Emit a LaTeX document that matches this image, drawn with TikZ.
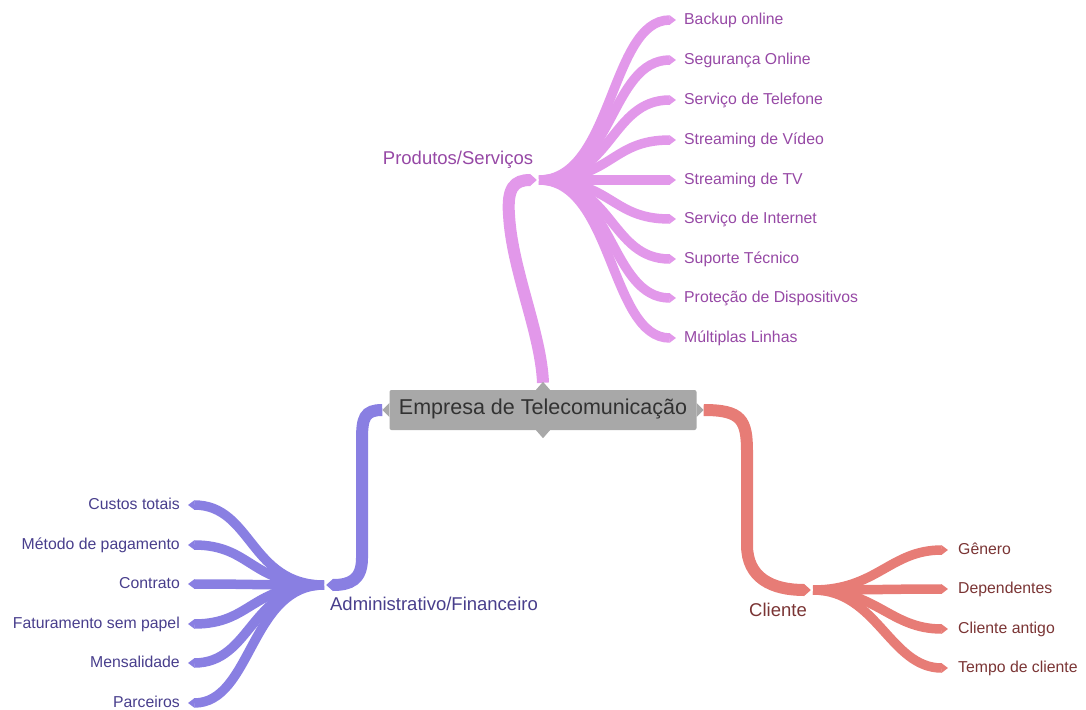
\documentclass[tikz,border=0pt]{standalone}
\usepackage{fontspec}
\setmainfont{Liberation Sans}
\usetikzlibrary{arrows.meta}
\definecolor{pinkB}{RGB}{226,152,234}
\definecolor{blueB}{RGB}{137,127,226}
\definecolor{redB}{RGB}{231,124,118}
\definecolor{pinkT}{RGB}{150,72,165}
\definecolor{blueT}{RGB}{72,62,140}
\definecolor{redT}{RGB}{122,52,52}
\definecolor{boxF}{RGB}{168,168,168}
\definecolor{boxT}{RGB}{50,50,50}
\begin{document}
\begin{tikzpicture}[x=1pt,y=-1pt,
  every node/.style={inner sep=0pt},
  leaf/.style={font=\fontsize{15.8}{18}\selectfont, text height=2ex, text depth=0.25ex},
  pleaf/.style={leaf,text=pinkT,anchor=west},
  bleaf/.style={leaf,text=blueT,anchor=east},
  rleaf/.style={leaf,text=redT,anchor=west},
  mid/.style={font=\fontsize{18.5}{21}\selectfont, text height=2ex, text depth=0.25ex},
  kid/.style={line width=9.5, line cap=butt, -{Triangle[length=0pt 0.7,width=0pt 1.0]}},
  stem/.style={line width=12, line cap=butt},
  stemtip/.style={stem, -{Triangle[length=0pt 0.6,width=0pt 1.0]}},
  notch/.style={white, line width=1.3, line cap=round, line join=miter},
]
\useasboundingbox (0,0) rectangle (1086,709);

% central node
\node[fill=boxF, minimum width=307, minimum height=40, rounded corners=2,
      font=\fontsize{21.5}{25}\selectfont, text=boxT, text height=1.9ex, text depth=0.3ex]
      (c) at (543,410) {Empresa de Telecomunicação};

% junction coordinates
\coordinate (jp) at (537,180);
\coordinate (jb) at (326,585);
\coordinate (jr) at (811,590);

% main labels
\node[mid, text=pinkT] (lp) at (458,160) {Produtos/Serviços};
\node[mid, text=blueT] (lb) at (434,606) {Administrativo/Financeiro};
\node[mid, text=redT] (lr) at (778,612) {Cliente};

% leaves
\node[pleaf] (p1) at (684,20) {Backup online};
\node[pleaf] (p2) at (684,60) {Segurança Online};
\node[pleaf] (p3) at (684,100) {Serviço de Telefone};
\node[pleaf] (p4) at (684,140) {Streaming de Vídeo};
\node[pleaf] (p5) at (684,180) {Streaming de TV};
\node[pleaf] (p6) at (684,219) {Serviço de Internet};
\node[pleaf] (p7) at (684,259) {Suporte Técnico};
\node[pleaf] (p8) at (684,298) {Proteção de Dispositivos};
\node[pleaf] (p9) at (684,338) {Múltiplas Linhas};

\node[bleaf] (b1) at (180,505) {Custos totais};
\node[bleaf] (b2) at (180,545) {Método de pagamento};
\node[bleaf] (b3) at (180,584) {Contrato};
\node[bleaf] (b4) at (180,624) {Faturamento sem papel};
\node[bleaf] (b5) at (180,663) {Mensalidade};
\node[bleaf] (b6) at (180,703) {Parceiros};

\node[rleaf] (r1) at (958,550) {Gênero};
\node[rleaf] (r2) at (958,589) {Dependentes};
\node[rleaf] (r3) at (958,629) {Cliente antigo};
\node[rleaf] (r4) at (958,668) {Tempo de cliente};

% stems
\draw[stemtip, pinkB] ([yshift=7]c.north) .. controls +(-2,-50) and (512,270) .. (509,215)
   .. controls (507,188) and (514,180) .. (jp);
\draw[stemtip, blueB] ([xshift=-7]c.west) .. controls +(-18,0) and (362,418) .. (362,440)
   -- (362,558) .. controls (362,580) and (350,585) .. (jb);
\draw[stemtip, redB] ([xshift=7]c.east) .. controls +(38,0) and (747,420) .. (747,452)
   -- (747,545) .. controls (747,578) and (772,590) .. (jr);

% box pointers
\fill[boxF] ([xshift=-7]c.north) -- ([yshift=8]c.north) -- ([xshift=7]c.north) -- cycle;
\fill[boxF] ([xshift=-7]c.south) -- ([yshift=-8]c.south) -- ([xshift=7]c.south) -- cycle;
\fill[boxF] ([yshift=-7]c.west) -- ([xshift=-7]c.west) -- ([yshift=7]c.west) -- cycle;
\fill[boxF] ([yshift=-7]c.east) -- ([xshift=7]c.east) -- ([yshift=7]c.east) -- cycle;

% pink children
\foreach \n in {p1,p2,p3,p4,p5,p6,p7,p8,p9}
  \draw[kid, pinkB] ([xshift=2]jp) .. controls +(74,0) and +(-66,0) .. ([xshift=-8]\n.west);
% blue children
\foreach \n in {b1,b2,b3,b4,b5,b6}
  \draw[kid, blueB] ([xshift=-2]jb) .. controls +(-74,0) and +(64,0) .. ([xshift=8]\n.east);
% red children
\foreach \n in {r1,r2,r3,r4}
  \draw[kid, redB] ([xshift=2]jr) .. controls +(64,0) and +(-58,0) .. ([xshift=-10]\n.west);

% junction notches
\draw[notch] ([xshift=-4,yshift=-6]jp) -- ([xshift=1]jp) -- ([xshift=-4,yshift=6]jp);
\draw[notch] ([xshift=4,yshift=-6]jb) -- ([xshift=-1]jb) -- ([xshift=4,yshift=6]jb);
\draw[notch] ([xshift=-4,yshift=-6]jr) -- ([xshift=1]jr) -- ([xshift=-4,yshift=6]jr);
\end{tikzpicture}
\end{document}
